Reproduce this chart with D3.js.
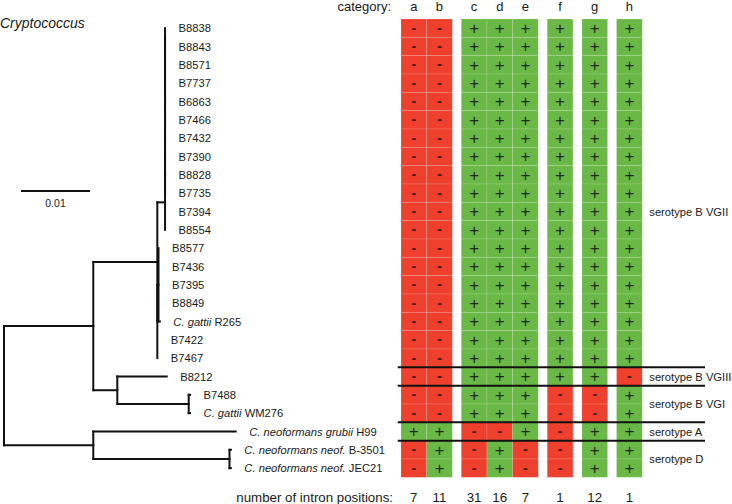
<!DOCTYPE html>
<html><head><meta charset="utf-8">
<script src="https://cdn.jsdelivr.net/npm/d3@7"></script>
<style>
body{margin:0;background:#fff}
svg{display:block}
text{font-family:"Liberation Sans",Arial,Helvetica,sans-serif;white-space:pre}
</style>
</head><body>
<svg id="chart" width="732" height="504"></svg>
<script>
// ---------------- DATA ----------------
const tipIds = ["B8838","B8843","B8571","B7737","B6863","B7466","B7432","B7390","B8828","B7735",
  "B7394","B8554","B8577","B7436","B7395","B8849","R265","B7422","B7467","B8212","B7488","WM276",
  "H99","B3501","JEC21"];
const tipItalic = ["","","","","","","","","","","","","","","","","C. gattii ","","","","","C. gattii ",
  "C. neoformans grubii ","C. neoformans neof. ","C. neoformans neof. "];
const tipPlain = ["B8838","B8843","B8571","B7737","B6863","B7466","B7432","B7390","B8828","B7735",
  "B7394","B8554","B8577","B7436","B7395","B8849","R265","B7422","B7467","B8212","B7488","WM276",
  "H99","B-3501","JEC21"];
// tree (branch lengths in substitutions/site), tips in row order
const treeNewick =
  "(((((((((((((B8838:0,B8843:0):0,B8571:0):0,B7737:0):0,B6863:0):0,B7466:0):0,B7432:0):0,B7390:0):0,B8828:0):0,B7735:0):0,B7394:0,B8554:0):0.00112," +
  "((B8577:0,B7436:0,B7395:0,B8849:0,R265:0.0002):0.00017,B7422:0,B7467:0):0):0.00928," +
  "(B8212:0.00716,(B7488:0.0002,WM276:0.0002):0.01035):0.00348):0.01294," +
  "(H99:0.02064,(B3501:0.0002,JEC21:0.0002):0.01974):0.01294);";
const categories = ["a","b","c","d","e","f","g","h"];
const categoryGroups = [0,0,1,1,1,2,3,4];
const intronCounts = [7,11,31,16,7,1,12,1];
// presence (+) / absence (-) per taxon, columns a..h
const patterns = [
  "--++++++","--++++++","--++++++","--++++++","--++++++","--++++++","--++++++","--++++++",
  "--++++++","--++++++","--++++++","--++++++","--++++++","--++++++","--++++++","--++++++",
  "--++++++","--++++++","--++++++",
  "--+++++-",
  "--+++--+","--+++--+",
  "++--+-++",
  "-+-+--++","-+-+--++"];
const serotypeLabels = ["serotype B VGII","serotype B VGIII","serotype B VGI","serotype A","serotype D"];
const serotypeLabelRows = [11,20,21.5,23,24.5];
const separatorsAfterRow = [19,20,22,23];
const scaleBarValue = 0.01;
const scaleBarLabel = "0.01";

// ---------------- HELPERS ----------------
function parseNewick(str){
  const s = str.replace(/\s+/g,"");
  let i = 0;
  function node(){
    const n = {};
    if (s[i] === "("){
      i++; n.children = [];
      while (true){
        n.children.push(node());
        if (s[i] === ","){ i++; continue; }
        break;
      }
      i++; // ')'
    }
    let name = "";
    while (i < s.length && !",:();".includes(s[i])) name += s[i++];
    n.name = name;
    n.length = 0;
    if (s[i] === ":"){
      i++; let num = "";
      while (i < s.length && !",();".includes(s[i])) num += s[i++];
      n.length = +num;
    }
    return n;
  }
  return node();
}

// ---------------- SCALES ----------------
const svg = d3.select("#chart");
const RED = "#ee402d", GREEN = "#6ab946", INK = "#111";
const y = d3.scaleBand().domain(tipIds).range([19, 477.3]).padding(0);
const rowCenter = id => y(id) + y.bandwidth()/2;
const rowPos = d3.scaleLinear().domain([1, tipIds.length])
  .range([rowCenter(tipIds[0]), rowCenter(tipIds[tipIds.length-1])]);

const nGroups = d3.max(categoryGroups) + 1;
const gapFrac = 0.351;
const slot = categories.map((c,i) => i + categoryGroups[i]*gapFrac);
const colX = d3.scaleLinear().domain([0, categories.length + (nGroups-1)*gapFrac]).range([401, 642.2]);
const colW = colX(1) - colX(0);

const xTree = d3.scaleLinear().domain([0, 0.01]).range([4, 73]);

// ---------------- TREE ----------------
const root = d3.hierarchy(parseNewick(treeNewick));
root.eachBefore(d => { d.dist = (d.parent ? d.parent.dist + d.data.length : 0); d.px = xTree(d.dist); });
root.eachAfter(d => {
  if (d.children) d.py = (d.children[0].py + d.children[d.children.length-1].py)/2;
  else d.py = rowCenter(d.data.name);
});
const gTree = svg.append("g").attr("fill","none").attr("stroke",INK).attr("stroke-width",2).attr("stroke-linecap","square");
root.descendants().forEach(d => {
  if (d.parent && d.px > d.parent.px) gTree.append("path").attr("d", `M${d.parent.px},${d.py}H${d.px}`);
  if (d.children) gTree.append("path").attr("d", `M${d.px},${d.children[0].py}V${d.children[d.children.length-1].py}`);
});
// tip labels
root.leaves().forEach(d => {
  const idx = tipIds.indexOf(d.data.name);
  const t = svg.append("text").attr("x", d.px + 13.5).attr("y", d.py).attr("dy","0.36em")
    .attr("font-size", 11.2).attr("fill","#1a1a1a");
  if (tipItalic[idx]) t.append("tspan").attr("font-style","italic").text(tipItalic[idx]);
  t.append("tspan").text(tipPlain[idx]);
});

// title
svg.append("text").attr("x",0).attr("y",28).attr("font-size",14).attr("font-style","italic").attr("fill","#1a1a1a").text("Cryptococcus");

// scale bar
svg.append("line").attr("x1",21).attr("x2",21 + xTree(scaleBarValue) - xTree(0)).attr("y1",191).attr("y2",191)
  .attr("stroke",INK).attr("stroke-width",2.2);
svg.append("text").attr("x",21 + (xTree(scaleBarValue)-xTree(0))/2).attr("y",206.5).attr("text-anchor","middle")
  .attr("font-size",10.5).attr("fill","#1a1a1a").text(scaleBarLabel);

// ---------------- GRID ----------------
const gGrid = svg.append("g");
tipIds.forEach((id, r) => {
  categories.forEach((c, ci) => {
    const present = patterns[r][ci] === "+";
    const x0 = colX(slot[ci]);
    gGrid.append("rect").attr("x", x0).attr("y", y(id)).attr("width", colW).attr("height", y.bandwidth())
      .attr("fill", present ? GREEN : RED).attr("stroke","rgba(255,255,255,0.16)").attr("stroke-width",0.8);
    gGrid.append("text").attr("x", x0 + colW/2).attr("y", rowCenter(id) + (present ? 5.9 : 4.6))
      .attr("text-anchor","middle").attr("font-size", present ? 17 : 14)
      .attr("font-weight", present ? "normal" : "bold")
      .attr("fill", present ? "#1f2a18" : "#3a1a12").text(present ? "+" : "-");
  });
});

// category header
svg.append("text").attr("x",391).attr("y",11).attr("text-anchor","end").attr("font-size",13).attr("fill","#1a1a1a").text("category:");
categories.forEach((c, ci) => {
  svg.append("text").attr("x", colX(slot[ci]) + colW/2).attr("y",11).attr("text-anchor","middle")
    .attr("font-size",13).attr("fill","#1a1a1a").text(c);
});

// intron counts
svg.append("text").attr("x",393).attr("y",501.5).attr("text-anchor","end").attr("font-size",13.3).attr("fill","#1a1a1a").text("number of intron positions:");
intronCounts.forEach((n, ci) => {
  svg.append("text").attr("x", colX(slot[ci]) + colW/2).attr("y",501.5).attr("text-anchor","middle")
    .attr("font-size",13.3).attr("fill","#1a1a1a").text(n);
});

// serotype separators
separatorsAfterRow.forEach(r => {
  const yy = y(tipIds[r]);
  svg.append("line").attr("x1",397.7).attr("x2",705).attr("y1",yy).attr("y2",yy)
    .attr("stroke",INK).attr("stroke-width",2);
});
serotypeLabels.forEach((s, i) => {
  svg.append("text").attr("x",649.3).attr("y", rowPos(serotypeLabelRows[i])).attr("dy","0.36em")
    .attr("font-size",11.2).attr("fill","#1a1a1a").text(s);
});
</script>
</body></html>
